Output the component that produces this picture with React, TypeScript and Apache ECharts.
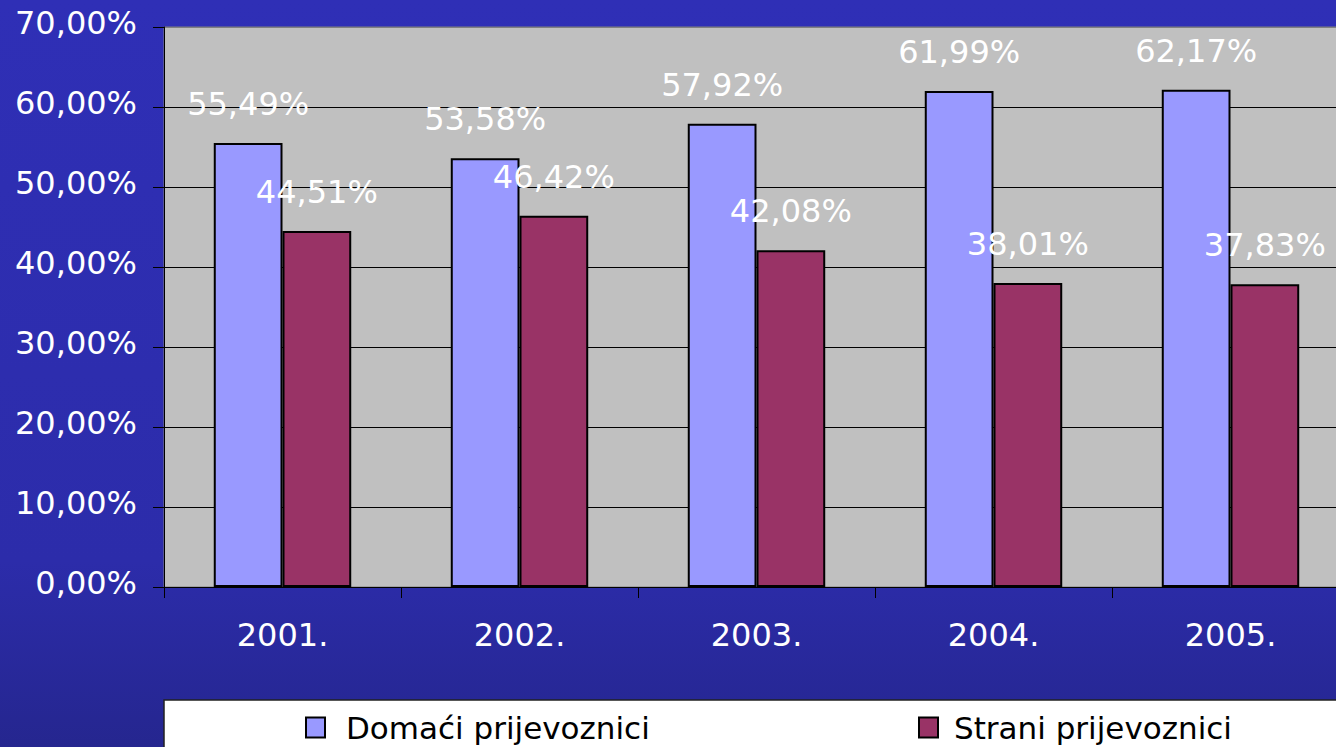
import React, { useEffect, useRef } from "react";
import * as echarts from "echarts";

const categories = ["2001.", "2002.", "2003.", "2004.", "2005."];
const domaci = [55.49, 53.58, 57.92, 61.99, 62.17];
const strani = [44.51, 46.42, 42.08, 38.01, 37.83];
const seriesNames = ["Domaći prijevoznici", "Strani prijevoznici"];

const FONT = "DejaVu Sans";
const fmt = (v: number) => v.toFixed(2).replace(".", ",") + "%";

export default function App() {
  const ref = useRef<HTMLDivElement>(null);
  useEffect(() => {
    document.body.style.margin = "0";
    document.body.style.overflow = "hidden";
    document.documentElement.style.overflow = "hidden";
    const chart = echarts.init(ref.current!, null, { renderer: "svg" });
    const labelCommon = {
      show: true,
      position: "top",
      distance: 23,
      color: "#fff",
      fontFamily: FONT,
      fontSize: 32,
      formatter: (p: any) => fmt(p.value),
    };
    const legendCommon = {
      top: 712,
      padding: 0,
      icon: "rect",
      itemWidth: 19,
      itemHeight: 20,
      itemStyle: { borderColor: "#000", borderWidth: 2 },
      z: 5,
    };
    chart.setOption({
      animation: false,
      backgroundColor: {
        type: "linear",
        x: 0,
        y: 0,
        x2: 0,
        y2: 1,
        colorStops: [
          { offset: 0, color: "#2F2FB6" },
          { offset: 0.75, color: "#2C2CAA" },
          { offset: 1, color: "#25268F" },
        ],
      },
      graphic: [
        {
          type: "rect",
          shape: { x: 164, y: 700, width: 1200, height: 60 },
          style: { fill: "#fff", stroke: "#222", lineWidth: 1.5 },
          z: 0,
        },
      ],
      grid: {
        left: 164,
        right: 0,
        top: 27,
        bottom: 160,
        show: true,
        backgroundColor: "#C0C0C0",
        borderColor: "#808080",
        borderWidth: 1,
      },
      legend: [
        {
          ...legendCommon,
          data: [seriesNames[0]],
          left: 305,
          textStyle: { color: "#000", fontFamily: FONT, fontSize: 31, padding: [0, 0, 0, 16] },
        },
        {
          ...legendCommon,
          data: [seriesNames[1]],
          left: 918,
          textStyle: { color: "#000", fontFamily: FONT, fontSize: 31, padding: [0, 0, 0, 11] },
        },
      ],
      xAxis: {
        type: "category",
        data: categories,
        axisLine: { show: true, lineStyle: { color: "#000", width: 1 } },
        axisTick: { show: true, length: 11, lineStyle: { color: "#000" } },
        axisLabel: { color: "#fff", fontFamily: FONT, fontSize: 32, margin: 32 },
      },
      yAxis: {
        type: "value",
        min: 0,
        max: 70,
        interval: 10,
        axisLine: { show: true, lineStyle: { color: "#000", width: 1 } },
        axisTick: { show: true, length: 11, lineStyle: { color: "#000" } },
        axisLabel: {
          color: "#fff",
          fontFamily: FONT,
          fontSize: 32,
          margin: 27,
          formatter: (v: number) => "{a|" + fmt(v) + "}",
          rich: {
            a: {
              color: "#fff",
              fontFamily: FONT,
              fontSize: 32,
              padding: [0, 0, 8, 0],
            },
          },
        },
        splitLine: {
          show: true,
          lineStyle: {
            color: ["#000", "#000", "#000", "#000", "#000", "#000", "#000", "#808080"],
            width: 1,
          },
        },
      },
      series: [
        {
          name: seriesNames[0],
          type: "bar",
          data: domaci,
          barGap: "0%",
          barCategoryGap: "42%",
          itemStyle: { color: "#9999FF", borderColor: "#000", borderWidth: 2 },
          label: labelCommon,
        },
        {
          name: seriesNames[1],
          type: "bar",
          data: strani,
          barGap: "0%",
          barCategoryGap: "42%",
          itemStyle: { color: "#993366", borderColor: "#000", borderWidth: 2 },
          label: labelCommon,
        },
      ],
    });
    return () => chart.dispose();
  }, []);
  return <div ref={ref} style={{ width: 1349, height: 747 }} />;
}
